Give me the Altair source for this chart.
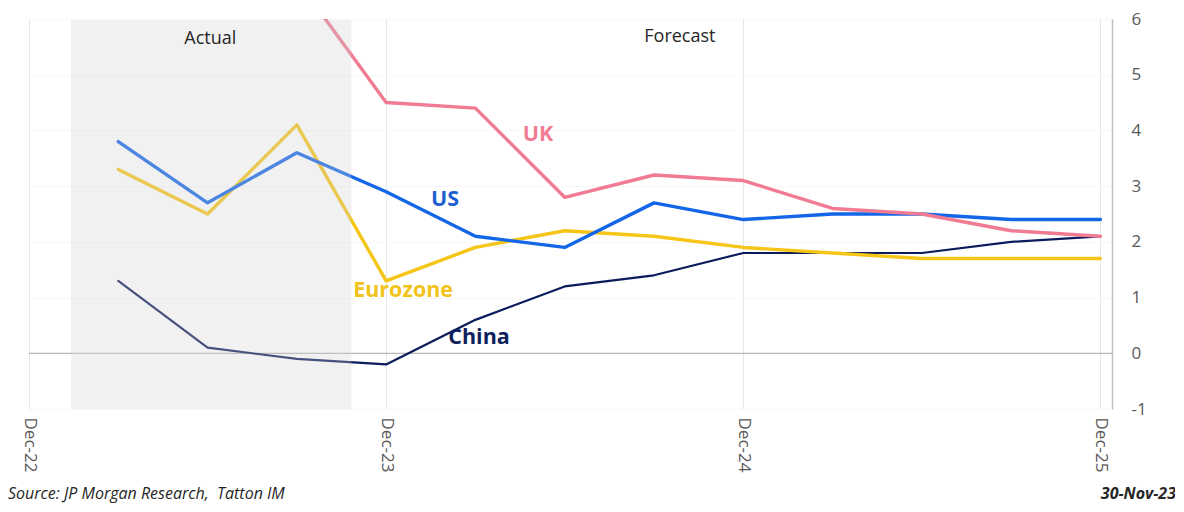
import altair as alt
import pandas as pd

# Quarterly inflation (% y/y), Mar-23 .. Dec-25
quarters = ["Mar-23", "Jun-23", "Sep-23", "Dec-23", "Mar-24", "Jun-24",
            "Sep-24", "Dec-24", "Mar-25", "Jun-25", "Sep-25", "Dec-25"]
q_index = [1, 2, 3, 4, 5, 6, 7, 8, 9, 10, 11, 12]
us = [3.8, 2.7, 3.6, 2.9, 2.1, 1.9, 2.7, 2.4, 2.5, 2.5, 2.4, 2.4]
uk = [10.1, 7.9, 6.7, 4.5, 4.4, 2.8, 3.2, 3.1, 2.6, 2.5, 2.2, 2.1]
eurozone = [3.3, 2.5, 4.1, 1.3, 1.9, 2.2, 2.1, 1.9, 1.8, 1.7, 1.7, 1.7]
china = [1.3, 0.1, -0.1, -0.2, 0.6, 1.2, 1.4, 1.8, 1.8, 1.8, 2.0, 2.1]

series_names = ["China", "Eurozone", "US", "UK"]
series_values = [china, eurozone, us, uk]
series_colors = ["#0C1B5C", "#F5C518", "#1366E8", "#F07B93"]
series_widths = [2.2, 3.4, 3.4, 3.4]

# x-axis tick labels (quarter index 0, 4, 8, 12)
tick_values = [0, 4, 8, 12]
tick_labels = ["Dec-22", "Dec-23", "Dec-24", "Dec-25"]
y_ticks = [-1, 0, 1, 2, 3, 4, 5, 6]

# "Actual" shaded period in quarter index units
actual_start = [0.47]
actual_end = [3.61]

# series labels
label_text = ["UK", "US", "Eurozone", "China"]
label_x = [5.70, 4.66, 4.19, 5.04]
label_y = [3.91, 2.75, 1.11, 0.27]
label_colors = ["#F07D95", "#1E5FD2", "#F2C318", "#0E1F5B"]

period_text = ["Actual", "Forecast"]
period_x = [2.03, 7.29]
period_y = [5.64, 5.67]

W, H = 1083, 390
FONT = "Open Sans"

label_expr = "[" + ",".join(f"'{t}'" for t in tick_labels) + "][round(datum.value/4)]"

x_scale = alt.Scale(domain=[0, 12.13], nice=False, zero=False)
y_scale = alt.Scale(domain=[-1, 6], nice=False, zero=False)

x_axis = alt.Axis(values=tick_values, labelExpr=label_expr, labelAngle=90,
                  labelAlign="left", labelBaseline="middle",
                  labelFontSize=17, labelColor="#595959", labelFont=FONT,
                  labelPadding=8, domain=False, ticks=False, grid=True,
                  gridColor="#E6E6E6", gridWidth=1, title=None)
y_axis = alt.Axis(orient="right", values=y_ticks, labelExpr="'' + datum.value",
                  labelFontSize=17, labelColor="#595959", labelFont=FONT,
                  labelPadding=19, domain=True, domainColor="#C0C0C0",
                  domainWidth=1.5, ticks=False, grid=True, gridColor="#F7F7F7",
                  gridWidth=1, title=None)


def X(field):
    return alt.X(field, scale=x_scale, axis=x_axis)


def Y(field):
    return alt.Y(field, scale=y_scale, axis=y_axis)


zero_line = alt.Chart(pd.DataFrame({"z": [0]})).mark_rule(
    color="#A6A6A6", strokeWidth=1).encode(
    y=Y("z:Q"),
    x=alt.value(0), x2=alt.value(W),
)

line_layers = []
for name, vals, col, w in zip(series_names, series_values, series_colors, series_widths):
    d = pd.DataFrame({"quarter": quarters, "idx": q_index, "value": vals})
    line_layers.append(
        alt.Chart(d).mark_line(clip=True, strokeJoin="round", strokeCap="round",
                               color=col, strokeWidth=w).encode(
            x=X("idx:Q"), y=Y("value:Q"), order=alt.Order("idx:Q"))
    )

shade_df = pd.DataFrame({"x0": actual_start, "x1": actual_end})
shade = alt.Chart(shade_df).mark_rect(color="#CFCFCF", opacity=0.3).encode(
    x=X("x0:Q"),
    x2="x1:Q",
    y=alt.value(1), y2=alt.value(H),
)

lab_df = pd.DataFrame({"text": label_text, "x": label_x, "y": label_y, "c": label_colors})
labels = alt.Chart(lab_df).mark_text(fontSize=21.5, fontWeight="bold", font=FONT).encode(
    x=X("x:Q"),
    y=Y("y:Q"),
    text="text:N",
    color=alt.Color("c:N", scale=None),
)

per_df = pd.DataFrame({"text": period_text, "x": period_x, "y": period_y})
periods = alt.Chart(per_df).mark_text(fontSize=18, color="#262626", font=FONT).encode(
    x=X("x:Q"),
    y=Y("y:Q"),
    text="text:N",
)

footer_df = pd.DataFrame({"t": ["Source: JP Morgan Research,\u00a0 Tatton IM"]})
source = alt.Chart(footer_df).mark_text(
    fontSize=16, fontStyle="italic", font=FONT, color="#262626",
    align="left", baseline="alphabetic").encode(
    text="t:N", x=alt.value(-21), y=alt.value(480))

date_df = pd.DataFrame({"t": ["30-Nov-23"]})
date_txt = alt.Chart(date_df).mark_text(
    fontSize=16, fontStyle="italic", fontWeight="bold", font=FONT, color="#262626",
    align="right", baseline="alphabetic").encode(
    text="t:N", x=alt.value(1147), y=alt.value(480))

chart = alt.layer(zero_line, *line_layers, shade, labels, periods, source, date_txt).properties(
    width=W, height=H,
    autosize=alt.AutoSizeParams(type="none"),
    padding={"left": 21, "top": 11, "right": 63, "bottom": 94},
).configure_view(strokeWidth=0, stroke="transparent").configure(background="white")

chart.save("out.html", embed_options={"renderer": "svg", "actions": False})
